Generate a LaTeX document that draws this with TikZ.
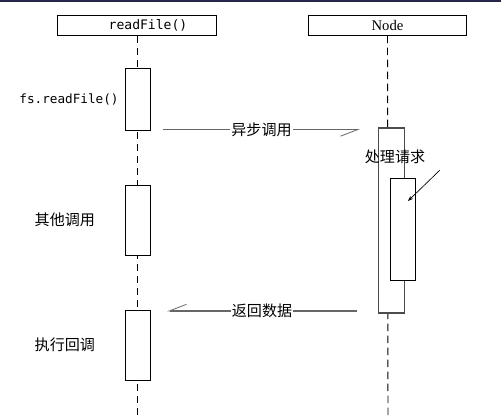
\documentclass[tikz,border=0pt]{standalone}
\usepackage{fontspec}
\setmainfont{Liberation Serif}
\setmonofont{DejaVu Sans Mono}
\newfontfamily\cjk{Noto Sans CJK SC}
\usetikzlibrary{arrows.meta,calc,positioning}
\tikzset{
  headbox/.style = {draw, thick, minimum width=119pt, minimum height=14.5pt, inner sep=0pt},
  actbox/.style = {draw, fill=white, minimum width=19pt, inner sep=0pt},
  lifeline/.style = {dashed, dash pattern=on 5.5pt off 3.5pt, line width=0.7pt},
  msg/.style = {draw=black!60, line width=0.8pt, -{Straight Barb[harpoon,swap,length=13pt,width=10pt,line width=0.6pt]}},
  cjklabel/.style = {font=\cjk\fontsize{11.3}{13}\selectfont, inner sep=1pt}
}
\definecolor{my_band}{RGB}{38, 38, 72}

\begin{document}
\begin{tikzpicture}[x=0.75pt,y=-0.75pt]
	\useasboundingbox (0,0) rectangle (501,419);
	\fill [my_band] (0,0) rectangle (501,2);
	% heads
	\node (rf) [headbox] at (137,25.5) {};
	\node (rftext) [font=\ttfamily\fontsize{9.8}{11}\selectfont, inner sep=0pt] at (148,25.5) {readFile()};
	\node (nd) [headbox, font=\fontsize{11}{13}\selectfont] at (387.5,25.5) {Node};
	% lifelines
	\coordinate (rfend) at (137,419);
	\coordinate (ndend) at (388,419);
	\draw [lifeline] (rf.south) -- (rfend);
	\draw [lifeline] (nd.south) -- (ndend);
	% left activations
	\node (a1) [actbox, minimum height=46.5pt] at (137.5,99) {};
	\node (a2) [actbox, minimum height=52.5pt] at (137.5,220) {};
	\node (a3) [actbox, minimum height=52.5pt] at (137.5,345) {};
	\node (l1) [font=\ttfamily\fontsize{9.5}{11}\selectfont, left=1pt of a1] {fs.readFile()};
	\node (l2) [cjklabel, left=21pt of a2] {其他调用};
	\node (l3) [cjklabel, left=21pt of a3] {执行回调};
	% right activations
	\node (b1) [actbox, draw=black!70, line width=0.8pt, minimum height=138.75pt] at (391.5,220.5) {};
	\node (b2) [actbox, minimum height=76.5pt] at (402.5,229) {};
	\node (pq) [cjklabel] at (395,157) {处理请求};
	\coordinate (pqfrom) at (440,170);
	\coordinate (pqto) at (408,201);
	\draw [-{Stealth[length=4pt,width=3pt]}, line width=0.5pt] (pqfrom) -- (pqto);
	% messages
	\coordinate (m1a) at (163,129.5);
	\coordinate (m1b) at (360,129.5);
	\coordinate (m2a) at (357,311);
	\coordinate (m2b) at (167,311);
	\draw [msg] (m1a) -- node [cjklabel, fill=white] {异步调用} (m1b);
	\draw [msg] (m2a) -- node [cjklabel, fill=white] {返回数据} (m2b);
\end{tikzpicture}
\end{document}
